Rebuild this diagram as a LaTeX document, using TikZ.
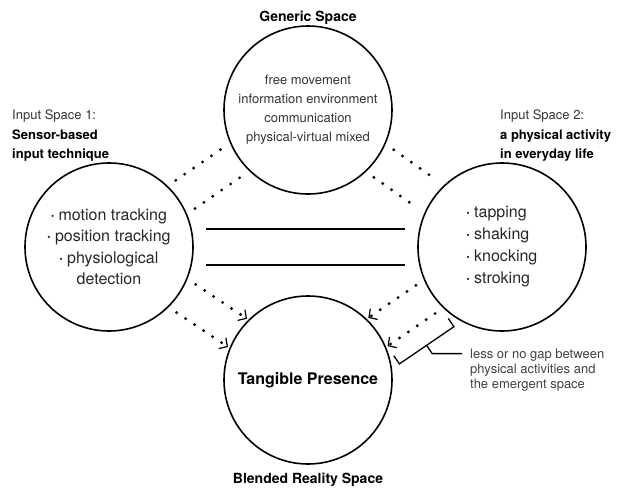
\documentclass[tikz,border=0pt]{standalone}
\usepackage{fontspec}
\setmainfont{TeX Gyre Heros}
\usepackage{tikz}
\usetikzlibrary{arrows.meta}
\newcommand{\spacebullet}{\raisebox{1.2pt}{\fontsize{9}{9}\selectfont •}\ }

\begin{document}
\begin{tikzpicture}[x=1pt,y=-1pt,inner sep=0pt,
  space/.style={circle,draw=black,line width=1.6pt,minimum size=168pt},
  dotline/.style={line width=3.2pt,line cap=round,dash pattern=on 0pt off 10.8pt},
  blendtip/.style={-{Straight Barb[length=6pt,width=13pt,line width=1.2pt]}},
  link/.style={line width=2.2pt},
  bracket/.style={line width=1.3pt,line join=miter},
  heading/.style={font=\fontsize{14}{17}\selectfont\bfseries},
  sidelabel/.style={align=left,text=black!80,font=\fontsize{13}{19.5}\selectfont}]
\useasboundingbox (0,0) rectangle (625,488);
%Node Coordinates
\node at (308,110) [space,align=center,text=black!80,font=\fontsize{13}{19}\selectfont] (Generic)
  {free movement\\information environment\\communication\\physical-virtual mixed};
\node at (109,247) [space,align=center,text=black!85,font=\fontsize{16}{21.5}\selectfont] (Input1)
  {\spacebullet motion tracking\\\spacebullet position tracking\\\spacebullet physiological\\detection};
\node at (502,247) [space,align=left,text=black!85,font=\fontsize{16}{22}\selectfont] (Input2)
  {\spacebullet tapping\\\spacebullet shaking\\\spacebullet knocking\\\spacebullet stroking};
\node at (308,380) [space,font=\fontsize{16}{19}\selectfont\bfseries] (Blend) {Tangible Presence};

%Node Labels
\node [heading] at (308,18) (GenericLabel) {Generic Space};
\node [heading] at (308,480) (BlendLabel) {Blended Reality Space};
\node [sidelabel,anchor=west] at (12,136) (Input1Label)
  {Input Space 1:\\{\color{black}\bfseries Sensor-based}\\{\color{black}\bfseries input technique}};
\node [sidelabel,anchor=west] at (500,136) (Input2Label)
  {Input Space 2:\\{\color{black}\bfseries a physical activity}\\{\color{black}\bfseries in everyday life}};
\node [anchor=west,align=left,inner xsep=8pt,text=black!75,font=\fontsize{13}{15}\selectfont] at (462,370) (GapNote)
  {less or no gap between\\physical activities and\\the emergent space};

%Connections
\draw [link,shorten <=12pt,shorten >=12pt,transform canvas={shift={(0,-18)}}] (Input1) -- (Input2);
\draw [link,shorten <=12pt,shorten >=12pt,transform canvas={shift={(0,18)}}] (Input1) -- (Input2);
\draw [dotline,shorten <=8pt,shorten >=8pt,transform canvas={shift={(-9.6,-14.1)}}] (Input1) -- (Generic);
\draw [dotline,shorten <=8pt,shorten >=8pt,transform canvas={shift={(9.6,14.1)}}] (Input1) -- (Generic);
\draw [dotline,shorten <=8pt,shorten >=8pt,transform canvas={shift={(9.9,-13.8)}}] (Generic) -- (Input2);
\draw [dotline,shorten <=8pt,shorten >=8pt,transform canvas={shift={(-9.9,13.8)}}] (Generic) -- (Input2);
\draw [dotline,blendtip,shorten <=8pt,transform canvas={shift={(9.5,-14.1)}}] (Input1) -- (Blend);
\draw [dotline,blendtip,shorten <=8pt,transform canvas={shift={(-9.5,14.1)}}] (Input1) -- (Blend);
\draw [dotline,blendtip,shorten <=8pt,transform canvas={shift={(-9.6,-14.1)}}] (Input2) -- (Blend);
\draw [dotline,blendtip,shorten <=8pt,transform canvas={shift={(9.6,14.1)}}] (Input2) -- (Blend);

%Bracket
\coordinate (Lead) at (432.2,353.6);
\draw [bracket] (448.3,318.5) -- (453.9,326.7) -- (399.4,363.9) -- (393.8,355.7);
\draw [bracket] (426.6,345.3) -- (Lead) -- (Lead -| GapNote.west);
\end{tikzpicture}
\end{document}
